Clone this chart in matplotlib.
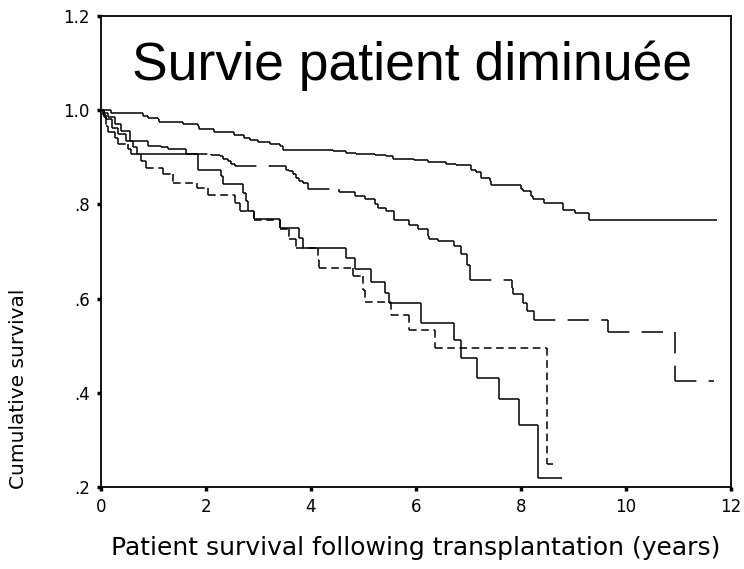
import matplotlib.pyplot as plt
from matplotlib.collections import LineCollection

plt.rcParams['font.family'] = ['DejaVu Sans']

# Kaplan-Meier step data: event times (years) and survival after each step
t_group1 = [0, 0.19, 0.80, 0.90, 1.08, 1.11, 1.30, 1.56, 1.84, 1.87, 2.16, 2.54, 2.73,
            2.83, 2.99, 3.21, 3.40, 3.47, 4.42, 4.67, 4.86, 5.21, 5.43, 5.56, 5.97, 6.22,
            6.57, 6.76, 7.05, 7.14, 7.24, 7.40, 7.43, 8.00, 8.03, 8.19, 8.22, 8.44, 8.80,
            9.03, 9.30]
s_group1 = [1.0, 0.993, 0.988, 0.984, 0.981, 0.976, 0.974, 0.970, 0.967, 0.961, 0.953,
            0.947, 0.942, 0.936, 0.933, 0.928, 0.923, 0.916, 0.913, 0.910, 0.906, 0.904,
            0.903, 0.896, 0.894, 0.891, 0.885, 0.883, 0.874, 0.869, 0.855, 0.850, 0.842,
            0.833, 0.828, 0.818, 0.811, 0.802, 0.789, 0.782, 0.767]
end_group1 = 11.74

t_group2 = [0, 0.06, 0.13, 0.26, 0.39, 0.55, 0.89, 1.15, 1.27, 1.62, 2.10, 2.26, 2.32,
            2.42, 2.48, 2.55, 3.53, 3.59, 3.66, 3.72, 3.78, 3.85, 3.94, 4.54, 4.83, 5.02,
            5.21, 5.27, 5.43, 5.59, 5.87, 6.03, 6.22, 6.25, 6.41, 6.73, 6.86, 6.98, 7.02,
            7.82, 7.84, 8.03, 8.12, 8.25, 9.66, 10.94]
s_group2 = [1.0, 0.993, 0.985, 0.970, 0.956, 0.935, 0.924, 0.921, 0.917, 0.908, 0.905,
            0.902, 0.896, 0.892, 0.885, 0.881, 0.874, 0.871, 0.864, 0.857, 0.850, 0.846,
            0.832, 0.826, 0.818, 0.811, 0.800, 0.793, 0.787, 0.766, 0.757, 0.747, 0.733,
            0.726, 0.722, 0.711, 0.694, 0.672, 0.640, 0.623, 0.609, 0.591, 0.574, 0.555,
            0.529, 0.424]
end_group2 = 11.67

t_group3 = [0, 0.04, 0.10, 0.20, 0.32, 0.48, 0.61, 0.69, 1.85, 2.29, 2.33, 2.71, 2.77,
            2.80, 2.91, 3.40, 3.78, 3.85, 4.67, 4.83, 5.15, 5.40, 5.49, 6.09, 6.73, 6.85,
            7.16, 7.59, 7.96, 8.33]
s_group3 = [1.0, 0.990, 0.981, 0.963, 0.949, 0.935, 0.921, 0.908, 0.873, 0.860, 0.843,
            0.825, 0.807, 0.786, 0.768, 0.750, 0.729, 0.708, 0.687, 0.662, 0.635, 0.612,
            0.590, 0.549, 0.512, 0.474, 0.431, 0.386, 0.331, 0.219]
end_group3 = 8.79

t_group4 = [0, 0.05, 0.10, 0.13, 0.26, 0.32, 0.51, 0.58, 0.77, 0.86, 1.18, 1.37, 1.83,
            2.04, 2.55, 2.64, 2.91, 3.40, 3.59, 3.71, 4.13, 4.16, 4.80, 4.99, 5.02, 5.53,
            5.86, 6.36, 8.50]
s_group4 = [1.0, 0.985, 0.967, 0.953, 0.942, 0.928, 0.917, 0.906, 0.892, 0.878, 0.864,
            0.846, 0.834, 0.819, 0.804, 0.786, 0.767, 0.747, 0.726, 0.708, 0.683, 0.665,
            0.647, 0.619, 0.592, 0.566, 0.533, 0.495, 0.249]
end_group4 = 8.60

x_ticks = [0, 2, 4, 6, 8, 10, 12]
y_ticks = [0.2, 0.4, 0.6, 0.8, 1.0, 1.2]
y_ticklabels = ['.2', '.4', '.6', '.8', '1.0', '1.2']


def step_segments(times, surv, t_end):
    # one segment per horizontal run and per vertical drop, so a dash
    # pattern restarts at every step like the SPSS output
    segs = []
    for i in range(len(times)):
        t_next = times[i + 1] if i + 1 < len(times) else t_end
        segs.append([(times[i], surv[i]), (t_next, surv[i])])
        if i + 1 < len(times):
            segs.append([(t_next, surv[i]), (t_next, surv[i + 1])])
    return segs


fig = plt.figure(figsize=(7.44, 5.69), dpi=100)
ax = fig.add_axes([101 / 744, 82 / 569, 630 / 744, 471 / 569])

ax.add_collection(LineCollection(step_segments(t_group1, s_group1, end_group1),
                                 colors='black', linewidths=1.1))
ax.add_collection(LineCollection(step_segments(t_group2, s_group2, end_group2),
                                 colors='black', linewidths=1.1,
                                 linestyles=[(0, (14, 8))]))
ax.add_collection(LineCollection(step_segments(t_group3, s_group3, end_group3),
                                 colors='black', linewidths=1.1))
ax.add_collection(LineCollection(step_segments(t_group4, s_group4, end_group4),
                                 colors='black', linewidths=1.1,
                                 linestyles=[(0, (5, 3))]))

ax.set_xlim(0, 12)
ax.set_ylim(0.2, 1.2)
ax.set_xticks(x_ticks)
ax.set_xticklabels([str(v) for v in x_ticks])
ax.set_yticks(y_ticks)
ax.set_yticklabels(y_ticklabels)
ax.tick_params(direction='out', length=3, width=2.5, labelsize=12, pad=5)
for spine in ax.spines.values():
    spine.set_linewidth(1.3)

ax.text(0.493, 0.895, 'Survie patient diminuée', transform=ax.transAxes,
        ha='center', va='center', fontsize=38.5, family='Liberation Sans')

fig.text(416 / 744, 1 - 548 / 569, 'Patient survival following transplantation (years)',
         ha='center', va='center', fontsize=18)
fig.text(19 / 744, 1 - 389 / 569, 'Cumulative survival', rotation=90,
         ha='center', va='center', fontsize=14.5)

fig.savefig('out.png', dpi=100)
